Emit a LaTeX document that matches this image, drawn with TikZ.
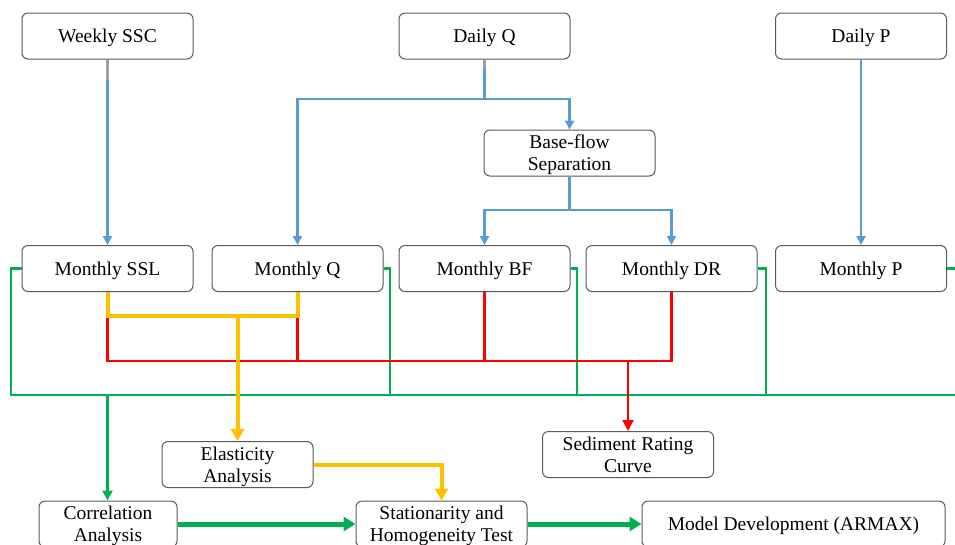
\documentclass[tikz,border=0pt]{standalone}
\usepackage{fontspec}
\setmainfont{Liberation Serif}
\usetikzlibrary{arrows.meta}
\definecolor{cblue}{HTML}{5B9BD5}
\definecolor{cyel}{HTML}{FFC000}
\definecolor{cred}{HTML}{FF0000}
\definecolor{cgreen}{HTML}{00B050}
\definecolor{cedge}{HTML}{5A5A5A}
\definecolor{cstub}{HTML}{A0A0A0}
\begin{document}
\begin{tikzpicture}[x=1pt,y=-1pt,
  box/.style={draw=cedge, line width=1pt, rounded corners=6pt, fill=white,
    minimum width=171pt, minimum height=46pt, inner sep=0pt, align=center,
    text depth=0pt, font=\fontsize{19.5}{22}\selectfont},
  stub/.style={draw=cstub, line width=2.5pt},
  bl/.style={draw=cblue, line width=2.5pt},
  bla/.style={bl, -{Triangle[width=9pt,length=9pt]}},
  gr/.style={draw=cgreen, line width=2.5pt},
  gra/.style={gr, -{Triangle[width=10pt,length=10pt]}},
  gbig/.style={draw=cgreen, line width=5pt, -{Triangle[width=14pt,length=12pt]}},
  rd/.style={draw=cred, line width=2.5pt},
  rda/.style={rd, -{Triangle[width=11pt,length=11pt]}},
  yl/.style={draw=cyel, line width=4pt},
  yla/.style={yl, -{Triangle[width=13pt,length=12pt]}}
]
\useasboundingbox (0,0) rectangle (955,544);
\clip (0,0) rectangle (955,544);

% nodes
\node[box] (wssc) at (107.5,36) {Weekly SSC};
\node[box] (dq) at (484.5,36) {Daily Q};
\node[box] (dp) at (861,36) {Daily P};
\node[box] (bfs) at (569.5,153) {Base-flow\\Separation};
\node[box] (mssl) at (107.5,268.5) {Monthly SSL};
\node[box] (mq) at (297.5,268.5) {Monthly Q};
\node[box] (mbf) at (484.5,268.5) {Monthly BF};
\node[box] (mdr) at (671.5,268.5) {Monthly DR};
\node[box] (mp) at (861,268.5) {Monthly P};
\node[box, minimum width=151pt] (ea) at (237.5,464.5) {Elasticity\\Analysis};
\node[box] (src) at (628,454.5) {Sediment Rating\\Curve};
\node[box, minimum width=138pt] (ca) at (108,524) {Correlation\\Analysis};
\node[box] (sht) at (441.5,524) {Stationarity and\\Homogeneity Test};
\node[box, minimum width=303pt] (md) at (793.5,524) {Model Development (ARMAX)};

% blue
\coordinate (w1) at (107.5,80);
\draw[stub] (wssc.south) -- (w1);
\draw[bla] (w1) -- (mssl.north);
\coordinate (q0) at (484.5,68);
\coordinate (q1) at (484.5,99);
\draw[stub] (dq.south) -- (q0);
\draw[bl] (q0) -- (q1);
\draw[bla] (q1) -| (mq.north);
\draw[bla] (q1) -| (bfs.north);
\coordinate (b1) at (569.5,210);
\draw[bl] (bfs.south) -- (b1);
\draw[bla] (b1) -| (mbf.north);
\draw[bla] (b1) -| (mdr.north);
\draw[bla] (dp.south) -- (mp.north);

% green
\coordinate (g0) at (11,395);
\coordinate (gR) at (962,395);
\draw[gr] (mssl.west) -| (g0) -- (gR) |- (mp.east);
\draw[gr] (mq.east) -| (390,395);
\draw[gr] (mbf.east) -| (577,395);
\draw[gr] (mdr.east) -| (766,395);
\coordinate (g1) at (107.5,395);
\draw[gra] (g1) -- (ca.north -| g1);

% red
\coordinate (rR) at (671.5,361);
\draw[rd] (mssl.south) |- (rR) -- (mdr.south);
\draw[rd] (mq.south) -- (mq.south |- rR);
\draw[rd] (mbf.south) -- (mbf.south |- rR);
\coordinate (r1) at (628,361);
\draw[rda] (r1) -- (src.north);

% yellow
\coordinate (yR) at (297.5,316);
\draw[yl] (mssl.south) |- (yR) -- (mq.south);
\coordinate (y1) at (237.5,316);
\draw[yla] (y1) -- (ea.north);
\draw[yla] (ea.east) -| (sht.north);

% bottom
\draw[gbig] (ca.east) -- (sht.west);
\draw[gbig] (sht.east) -- (md.west);
\end{tikzpicture}
\end{document}
